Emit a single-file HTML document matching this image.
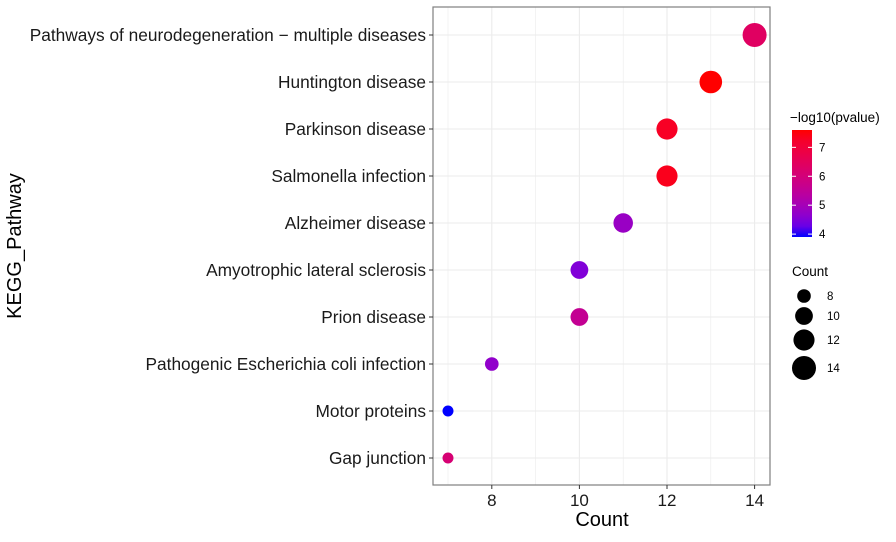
<!DOCTYPE html>
<html><head><meta charset="utf-8"><style>
body{margin:0;background:#fff;font-family:"Liberation Sans",Arial,sans-serif}
</style></head><body>
<svg id="c" width="896" height="537" xmlns="http://www.w3.org/2000/svg" font-family="Liberation Sans, Arial, sans-serif"></svg>
<script>
const pathways=["Pathways of neurodegeneration − multiple diseases","Huntington disease","Parkinson disease","Salmonella infection","Alzheimer disease","Amyotrophic lateral sclerosis","Prion disease","Pathogenic Escherichia coli infection","Motor proteins","Gap junction"];
const counts=[14,13,12,12,11,10,10,8,7,7];
const logp=[6.4,7.6,7.3,7.4,4.8,4.5,5.6,4.7,3.9,6.1];
const xTicks=[8,10,12,14];
const colorTicks=[4,5,6,7];
const sizeTicks=[8,10,12,14];
const NS="http://www.w3.org/2000/svg";
const svg=document.getElementById('c');
function el(t,a,txt){const e=document.createElementNS(NS,t);for(const k in a)e.setAttribute(k,a[k]);if(txt!==undefined)e.textContent=txt;svg.appendChild(e);return e;}
const L=433,R=770,T=7,B=485;
const x=v=>448+(v-7)*43.8;
const y=i=>35+i*47;
const cMin=3.9,cMax=7.6;
function s2l(c){c/=255;return c<=0.04045?c/12.92:Math.pow((c+0.055)/1.055,2.4);}
function l2s(c){c=c<=0.0031308?12.92*c:1.055*Math.pow(c,1/2.4)-0.055;return Math.round(Math.max(0,Math.min(1,c))*255);}
function toLab(r,g,b){r=s2l(r);g=s2l(g);b=s2l(b);let X=(0.4124*r+0.3576*g+0.1805*b)/0.95047,Y=0.2126*r+0.7152*g+0.0722*b,Z=(0.0193*r+0.1192*g+0.9505*b)/1.08883;const f=t=>t>0.008856?Math.cbrt(t):7.787*t+16/116;return [116*f(Y)-16,500*(f(X)-f(Y)),200*(f(Y)-f(Z))];}
function fromLab(L_,a,b){let fy=(L_+16)/116,fx=fy+a/500,fz=fy-b/200;const fi=t=>t*t*t>0.008856?t*t*t:(t-16/116)/7.787;let X=fi(fx)*0.95047,Y=fi(fy),Z=fi(fz)*1.08883;let r=3.2406*X-1.5372*Y-0.4986*Z,g=-0.9689*X+1.8758*Y+0.0415*Z,bb=0.0557*X-0.2040*Y+1.0570*Z;return `rgb(${l2s(r)},${l2s(g)},${l2s(bb)})`;}
const LB=toLab(0,0,255),LR=toLab(255,0,0);
function colT(t){t=Math.max(0,Math.min(1,t));return fromLab(LB[0]+(LR[0]-LB[0])*t,LB[1]+(LR[1]-LB[1])*t,LB[2]+(LR[2]-LB[2])*t);}
const col=v=>colT((v-cMin)/(cMax-cMin));
const rad=c=>Math.sqrt(Math.max(4,-84+16.3*c));
let bg=el('rect',{x:L,y:T,width:R-L,height:B-T,fill:'#fff',stroke:'none'});

for(let v=7;v<=14;v+=1){const g=el('line',{x1:x(v),x2:x(v),y1:T,y2:B,stroke:'#ebebeb','stroke-width':v%2==0?1.1:0.6});}
pathways.forEach((p,i)=>{const g=el('line',{x1:L,x2:R,y1:y(i),y2:y(i),stroke:'#ebebeb','stroke-width':1.1});});
let fr=el('rect',{x:L,y:T,width:R-L,height:B-T,fill:'none',stroke:'#7f7f7f','stroke-width':1.2});

pathways.forEach((p,i)=>{
 const t=el('text',{x:L-7,y:y(i)+6,'text-anchor':'end','font-size':17.3,fill:'#1a1a1a'},p);
 
 const k=el('line',{x1:L-4,x2:L,y1:y(i),y2:y(i),stroke:'#333'});
 const c=el('circle',{cx:x(counts[i]),cy:y(i),r:rad(counts[i]),fill:col(logp[i])});
 
});
xTicks.forEach(v=>{
 const k=el('line',{x1:x(v),x2:x(v),y1:B,y2:B+4,stroke:'#333'});
 const t=el('text',{x:x(v),y:B+21,'text-anchor':'middle','font-size':17,fill:'#1a1a1a'},v);
});
let xt=el('text',{x:602,y:526,'text-anchor':'middle','font-size':20},'Count');
let yt=el('text',{x:0,y:0,'text-anchor':'middle','font-size':20,transform:'translate(21,246) rotate(-90)'},'KEGG_Pathway');
let ct=el('text',{x:790,y:122,'font-size':13.5},'−log10(pvalue)');
const defs=el('defs',{});const lg=document.createElementNS(NS,'linearGradient');lg.setAttribute('id','g');lg.setAttribute('x1','0');lg.setAttribute('y1','1');lg.setAttribute('x2','0');lg.setAttribute('y2','0');
for(let i=0;i<=10;i++){const s=document.createElementNS(NS,'stop');s.setAttribute('offset',i/10);s.setAttribute('stop-color',colT(i/10));lg.appendChild(s);}defs.appendChild(lg);
const cbT=130,cbB=237;const cy=v=>cbB-(v-cMin)/(cMax-cMin)*(cbB-cbT);
let cb=el('rect',{x:792,y:cbT,width:20,height:cbB-cbT,fill:'url(#g)'});
colorTicks.forEach(v=>{
 el('line',{x1:792,x2:796,y1:cy(v),y2:cy(v),stroke:'#fff'});el('line',{x1:808,x2:812,y1:cy(v),y2:cy(v),stroke:'#fff'});
 const t=el('text',{x:819,y:cy(v)+4,'font-size':11.5},v);
});
let st=el('text',{x:792,y:276,'font-size':13.5},'Count');
const sy=[296,316,340,368];
sizeTicks.forEach((v,i)=>{
 const c=el('circle',{cx:804,cy:sy[i],r:rad(v),fill:'#000'});
 const t=el('text',{x:827,y:sy[i]+4,'font-size':11.5},v);
});
</script>
</body></html>
